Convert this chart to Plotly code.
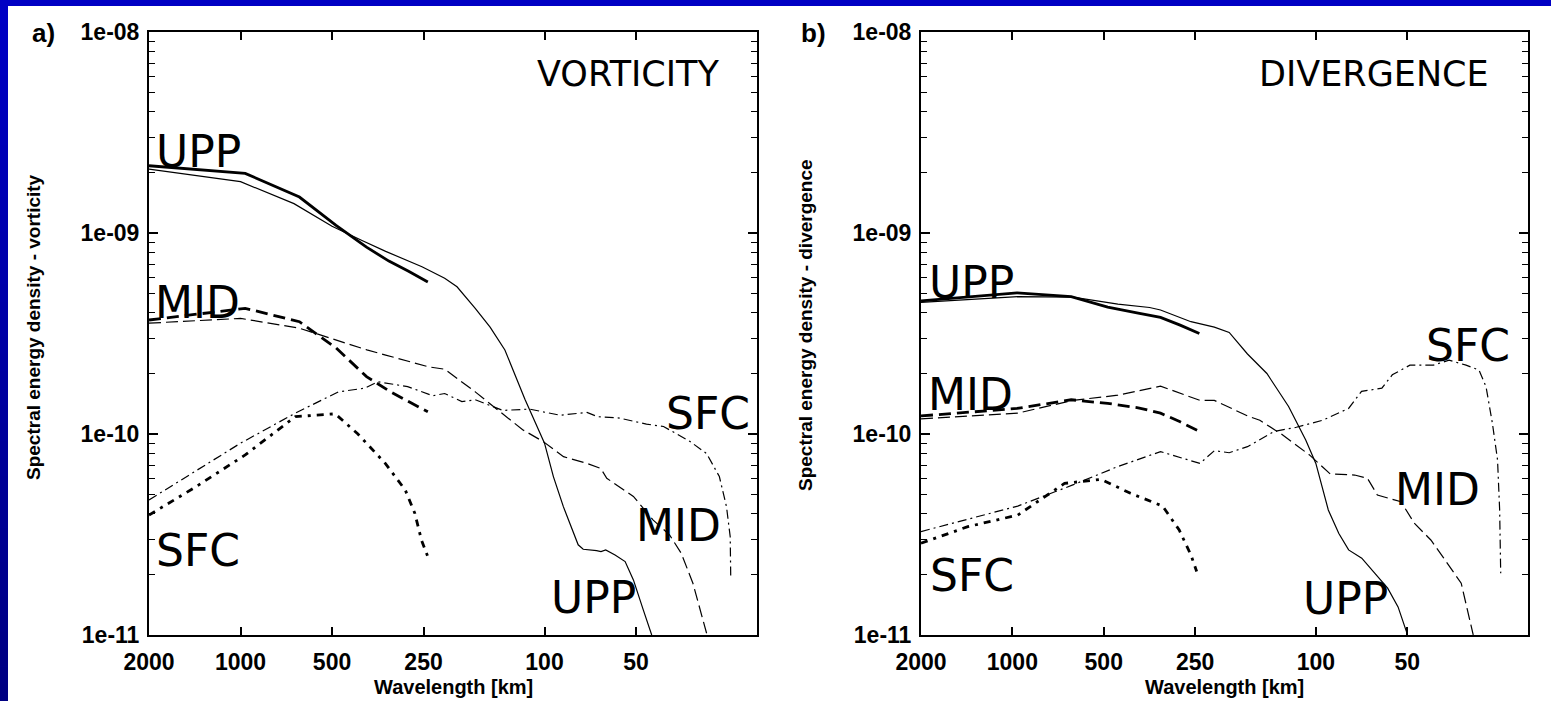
import math
import plotly.graph_objects as go

W, H = 1551, 701

# ---------------------------------------------------------------
# Spectral energy density vs wavelength (km)
# "coarse" = thick lines (ends near 250 km), "fine" = thin lines
# ---------------------------------------------------------------

# a) vorticity
vort_upp_coarse_wl = [2000, 965, 640, 485, 385, 325, 280, 242]
vort_upp_coarse = [2.16e-9, 1.98e-9, 1.51e-9, 1.09e-9, 8.5e-10, 7.25e-10, 6.45e-10, 5.7e-10]

vort_upp_fine_wl = [2000, 1000, 667, 500, 400, 333, 253, 213, 194, 169, 151, 135, 116, 100,
                    93.5, 86.7, 77.5, 74.6, 67.4, 65.2, 62.9, 58.6, 54.3, 51, 47.3, 44.4]
vort_upp_fine = [2.08e-9, 1.8e-9, 1.4e-9, 1.08e-9, 9.2e-10, 8.1e-10, 6.8e-10, 5.96e-10, 5.4e-10,
                 4.22e-10, 3.4e-10, 2.62e-10, 1.49e-10, 9.0e-11, 6.14e-11, 4.35e-11, 2.81e-11,
                 2.67e-11, 2.63e-11, 2.6e-11, 2.65e-11, 2.5e-11, 2.32e-11, 1.88e-11, 1.33e-11, 1.0e-11]

vort_mid_coarse_wl = [2000, 965, 640, 485, 385, 325, 280, 242]
vort_mid_coarse = [3.69e-10, 4.22e-10, 3.62e-10, 2.68e-10, 1.93e-10, 1.64e-10, 1.45e-10, 1.29e-10]

vort_mid_fine_wl = [2000, 1000, 640, 485, 384, 333, 241, 213, 169, 140, 118, 101, 86.6,
                    72.5, 65.3, 62.4, 51, 43.9, 38.8, 35.5, 32.5, 29.3]
vort_mid_fine = [3.56e-10, 3.76e-10, 3.36e-10, 2.94e-10, 2.62e-10, 2.47e-10, 2.16e-10, 2.1e-10,
                 1.62e-10, 1.29e-10, 1.05e-10, 9.17e-11, 7.71e-11, 7.14e-11, 6.74e-11, 6.02e-11,
                 4.89e-11, 3.73e-11, 3.15e-11, 2.55e-11, 1.81e-11, 1.02e-11]

vort_sfc_coarse_wl = [2000, 1411, 965, 660, 488, 411, 334, 287, 267, 254, 242]
vort_sfc_coarse = [3.95e-11, 5.43e-11, 7.87e-11, 1.22e-10, 1.26e-10, 1.0e-10, 7.14e-11,
                   5.26e-11, 4.03e-11, 2.97e-11, 2.45e-11]

vort_sfc_fine_wl = [2000, 1000, 660, 477, 390, 353, 282, 233, 213, 187, 169, 137, 112, 89,
                    72.5, 67, 56.7, 46.2, 40.6, 33.3, 29.3, 26.6, 25.2, 24.5, 24.4]
vort_sfc_fine = [4.7e-11, 9.0e-11, 1.27e-10, 1.62e-10, 1.69e-10, 1.82e-10, 1.72e-10, 1.55e-10,
                 1.59e-10, 1.45e-10, 1.48e-10, 1.31e-10, 1.33e-10, 1.24e-10, 1.28e-10, 1.22e-10,
                 1.2e-10, 1.12e-10, 1.09e-10, 9.2e-11, 8.0e-11, 6.14e-11, 4.35e-11, 3.08e-11, 1.91e-11]

# b) divergence
div_upp_coarse_wl = [2000, 965, 640, 485, 385, 325, 280, 242]
div_upp_coarse = [4.6e-10, 5.04e-10, 4.82e-10, 4.28e-10, 3.99e-10, 3.8e-10, 3.48e-10, 3.16e-10]

div_upp_fine_wl = [2000, 960, 632, 449, 353, 325, 258, 216, 193, 168, 145, 123, 108, 100,
                   91, 84, 78, 70.6, 64, 58, 53.6, 50.3]
div_upp_fine = [4.52e-10, 4.82e-10, 4.8e-10, 4.43e-10, 4.26e-10, 4.14e-10, 3.62e-10, 3.4e-10,
                3.2e-10, 2.5e-10, 2.0e-10, 1.37e-10, 9.33e-11, 7.14e-11, 4.19e-11, 3.2e-11,
                2.65e-11, 2.41e-11, 2.03e-11, 1.71e-11, 1.38e-11, 1.04e-11]

div_mid_coarse_wl = [2000, 965, 640, 485, 385, 325, 280, 242]
div_mid_coarse = [1.23e-10, 1.34e-10, 1.48e-10, 1.42e-10, 1.35e-10, 1.27e-10, 1.15e-10, 1.03e-10]

div_mid_fine_wl = [2000, 960, 632, 449, 325, 241, 216, 168, 153, 130, 105, 89.7, 74.5, 67.6,
                   62.7, 52.4, 47.4, 41.8, 37.9, 33.2, 30.3]
div_mid_fine = [1.19e-10, 1.27e-10, 1.47e-10, 1.56e-10, 1.73e-10, 1.47e-10, 1.47e-10, 1.23e-10,
                1.17e-10, 1.0e-10, 7.87e-11, 6.33e-11, 6.25e-11, 6.02e-11, 4.97e-11, 4.6e-11,
                3.6e-11, 2.97e-11, 2.41e-11, 1.81e-11, 1.0e-11]

div_sfc_coarse_wl = [2000, 1402, 960, 673, 511, 408, 320, 282, 258, 247]
div_sfc_coarse = [2.86e-11, 3.46e-11, 3.95e-11, 5.68e-11, 5.95e-11, 5.07e-11, 4.38e-11,
                  3.33e-11, 2.5e-11, 2.07e-11]

div_sfc_fine_wl = [2000, 960, 632, 449, 325, 241, 216, 193, 168, 137, 116, 95, 78, 70.7, 60.6,
                   56, 49, 41, 36.4, 32, 29, 27.5, 26.2, 25.2, 24.8, 24.6]
div_sfc_fine = [3.27e-11, 4.38e-11, 5.58e-11, 6.89e-11, 8.17e-11, 7.14e-11, 8.26e-11, 8.07e-11,
                8.65e-11, 1.03e-10, 1.08e-10, 1.17e-10, 1.34e-10, 1.63e-10, 1.69e-10, 1.97e-10,
                2.2e-10, 2.2e-10, 2.33e-10, 2.2e-10, 2.08e-10, 1.72e-10, 1.13e-10, 7.43e-11,
                4.19e-11, 2.03e-11]

# axis ticks
x_tick_vals = [2000, 1000, 500, 250, 100, 50]
x_tick_text = ["2000", "1000", "500", "250", "100", "50"]
y_tick_vals = [1e-11, 1e-10, 1e-9, 1e-8]
y_tick_text = ["1e-11", "1e-10", "1e-09", "1e-08"]
y_minor_vals = [m * 10.0 ** e for e in (-11, -10, -9) for m in range(2, 10)]

# ---------------------------------------------------------------
THIN, THICK = 1.2, 2.8
STYLE = {
    "upp_fine": dict(width=THIN, dash="solid"),
    "upp_coarse": dict(width=THICK, dash="solid"),
    "mid_fine": dict(width=THIN, dash="12px,5px"),
    "mid_coarse": dict(width=THICK, dash="12px,6px"),
    "sfc_fine": dict(width=THIN, dash="9px,4px,2px,4px"),
    "sfc_coarse": dict(width=THICK, dash="7px,6px,3px,6px"),
}

fig = go.Figure()


def add(wl, val, style, xa, ya, name):
    fig.add_trace(go.Scatter(
        x=wl, y=val, mode="lines", name=name, showlegend=False,
        line=dict(color="black", shape="linear", **STYLE[style]),
        xaxis=xa, yaxis=ya, hoverinfo="x+y+name"))


add(vort_upp_fine_wl, vort_upp_fine, "upp_fine", "x", "y", "UPP")
add(vort_upp_coarse_wl, vort_upp_coarse, "upp_coarse", "x", "y", "UPP")
add(vort_mid_fine_wl, vort_mid_fine, "mid_fine", "x", "y", "MID")
add(vort_mid_coarse_wl, vort_mid_coarse, "mid_coarse", "x", "y", "MID")
add(vort_sfc_fine_wl, vort_sfc_fine, "sfc_fine", "x", "y", "SFC")
add(vort_sfc_coarse_wl, vort_sfc_coarse, "sfc_coarse", "x", "y", "SFC")

add(div_upp_fine_wl, div_upp_fine, "upp_fine", "x2", "y2", "UPP")
add(div_upp_coarse_wl, div_upp_coarse, "upp_coarse", "x2", "y2", "UPP")
add(div_mid_fine_wl, div_mid_fine, "mid_fine", "x2", "y2", "MID")
add(div_mid_coarse_wl, div_mid_coarse, "mid_coarse", "x2", "y2", "MID")
add(div_sfc_fine_wl, div_sfc_fine, "sfc_fine", "x2", "y2", "SFC")
add(div_sfc_coarse_wl, div_sfc_coarse, "sfc_coarse", "x2", "y2", "SFC")


def px(x):
    return x / W


def py(y):
    return 1 - y / H


TICK_FONT = dict(family="Liberation Sans, Arial, sans-serif", size=23, color="black", weight="bold")

xaxis_common = dict(
    type="log", range=[math.log10(2000), math.log10(20)],
    tickmode="array", tickvals=x_tick_vals, ticktext=x_tick_text,
    ticks="inside", ticklen=8, tickwidth=1.5, tickcolor="black",
    showline=True, linecolor="black", linewidth=2, mirror="ticks",
    showgrid=False, zeroline=False, tickfont=TICK_FONT, ticklabelstandoff=5,
    fixedrange=True,
)
yaxis_common = dict(
    type="log", range=[-11, -8],
    tickmode="array", tickvals=y_tick_vals, ticktext=y_tick_text,
    ticks="inside", ticklen=9, tickwidth=1.5, tickcolor="black",
    minor=dict(tickmode="array", tickvals=y_minor_vals, ticks="inside", ticklen=6,
               tickwidth=1.2, tickcolor="black", showgrid=False),
    showline=True, linecolor="black", linewidth=2, mirror="ticks",
    showgrid=False, zeroline=False, tickfont=TICK_FONT, ticklabelstandoff=3,
    fixedrange=True,
)

fig.update_layout(
    width=W, height=H,
    margin=dict(l=0, r=0, t=0, b=0, autoexpand=False),
    paper_bgcolor="#0000C4",
    plot_bgcolor="rgba(0,0,0,0)",
    xaxis=dict(domain=[px(149), px(757)], anchor="y", **xaxis_common),
    yaxis=dict(domain=[py(635), py(32)], anchor="x", **yaxis_common),
    xaxis2=dict(domain=[px(921), px(1528)], anchor="y2", **xaxis_common),
    yaxis2=dict(domain=[py(635), py(32)], anchor="x2", **yaxis_common),
)

# slide background: white page with a blue frame along the top and left
shapes = [dict(type="rect", xref="paper", yref="paper", x0=px(8), x1=1, y0=0, y1=py(6),
               fillcolor="white", line=dict(width=0), layer="below")]
n_strips = 40
for i in range(n_strips):
    t = i / (n_strips - 1)
    blue = int(round(196 - t * 66))
    y0 = 6 + (H - 6) * i / n_strips
    y1 = 6 + (H - 6) * (i + 1) / n_strips
    shapes.append(dict(type="rect", xref="paper", yref="paper", x0=0, x1=px(8),
                       y0=py(y1 + 0.5), y1=py(y0), fillcolor=f"rgb(0,0,{blue})",
                       line=dict(width=0), layer="below"))
fig.update_layout(shapes=shapes)

LABEL_FONT = dict(family="DejaVu Sans, Verdana, sans-serif", size=44, color="black")
TITLE_FONT = dict(family="DejaVu Sans, Verdana, sans-serif", size=35, color="black")
AXIS_FONT = dict(family="Liberation Sans, Arial, sans-serif", size=19, color="black", weight="bold")
AXIS_X_FONT = dict(family="Liberation Sans, Arial, sans-serif", size=20, color="black", weight="bold")
PANEL_FONT = dict(family="Liberation Sans, Arial, sans-serif", size=26, color="black", weight="bold")

annotations = []


def label(text, x, y, font, xanchor="left", angle=0):
    annotations.append(dict(text=text, x=px(x), y=py(y), xref="paper", yref="paper",
                            xanchor=xanchor, yanchor="middle", showarrow=False,
                            font=font, textangle=angle))


# curve labels, panel a
label("UPP", 154, 151, LABEL_FONT)
label("MID", 153, 302, LABEL_FONT)
label("SFC", 154, 550, LABEL_FONT)
label("SFC", 664, 413, LABEL_FONT)
label("MID", 634, 525, LABEL_FONT)
label("UPP", 549, 597, LABEL_FONT)
label("VORTICITY", 535, 74, TITLE_FONT)
# curve labels, panel b
label("UPP", 927, 282, LABEL_FONT)
label("MID", 926, 394, LABEL_FONT)
label("SFC", 928, 575, LABEL_FONT)
label("SFC", 1424, 345, LABEL_FONT)
label("MID", 1393, 489, LABEL_FONT)
label("UPP", 1301, 598, LABEL_FONT)
label("DIVERGENCE", 1257, 74, TITLE_FONT)

# axis titles and panel letters
label("Wavelength [km]", 453, 687, AXIS_X_FONT, xanchor="center")
label("Wavelength [km]", 1224.5, 687, AXIS_X_FONT, xanchor="center")
label("Spectral energy density - vorticity", 34, 327, AXIS_FONT, xanchor="center", angle=-90)
label("Spectral energy density - divergence", 805, 325, AXIS_FONT, xanchor="center", angle=-90)
label("a)", 43, 33, PANEL_FONT, xanchor="center")
label("b)", 813, 33, PANEL_FONT, xanchor="center")

fig.update_layout(annotations=annotations)

fig.write_html("out.html")
